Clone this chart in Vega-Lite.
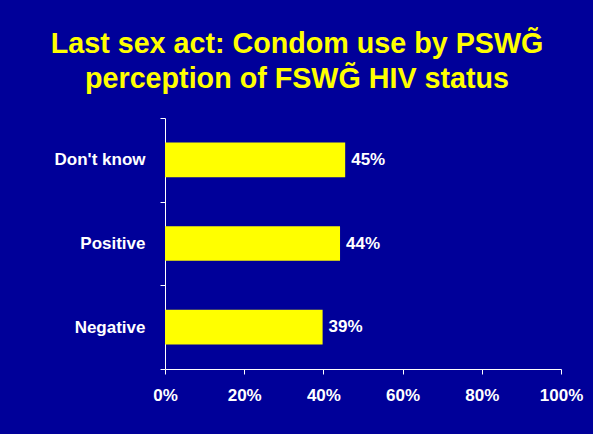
{
  "$schema": "https://vega.github.io/schema/vega-lite/v6.json",
  "autosize": "none",
  "width": 396,
  "height": 251,
  "padding": {"top": 118, "left": 165, "right": 32, "bottom": 65},
  "background": "#000099",
  "title": {
    "text": ["Last sex act: Condom use by PSWG̃", "perception of FSWG̃ HIV status"],
    "color": "#FFFF00",
    "font": "Liberation Sans",
    "fontSize": 28.7,
    "fontWeight": "bold",
    "lineHeight": 35,
    "anchor": "middle",
    "frame": "group",
    "dx": -66,
    "offset": 15
  },
  "data": {
    "values": [
      {"status": "Don't know", "pct": 45.5, "label": "45%"},
      {"status": "Positive", "pct": 44.2, "label": "44%"},
      {"status": "Negative", "pct": 39.8, "label": "39%"}
    ]
  },
  "encoding": {
    "y": {
      "field": "status",
      "type": "nominal",
      "sort": ["Don't know", "Positive", "Negative"],
      "title": null,
      "scale": {"paddingInner": 0, "paddingOuter": 0},
      "axis": {
        "domainColor": "#FFFFFF",
        "domainWidth": 1,
        "tickColor": "#FFFFFF",
        "tickSize": 5,
        "tickBand": "extent",
        "labelColor": "#FFFFFF",
        "labelFont": "Liberation Sans",
        "labelFontSize": 17,
        "labelFontWeight": "bold",
        "labelPadding": 15
      }
    }
  },
  "layer": [
    {
      "mark": {"type": "bar", "color": "#FFFF00", "height": {"band": 0.414}},
      "encoding": {
        "x": {
          "field": "pct",
          "type": "quantitative",
          "title": null,
          "scale": {"domain": [0, 100], "nice": false},
          "axis": {
            "values": [0, 20, 40, 60, 80, 100],
            "labelExpr": "datum.value + '%'",
            "grid": false,
            "domainColor": "#FFFFFF",
            "domainWidth": 1,
            "tickColor": "#FFFFFF",
            "tickSize": 5,
            "labelColor": "#FFFFFF",
            "labelFont": "Liberation Sans",
            "labelFontSize": 17,
            "labelFontWeight": "bold",
            "labelPadding": 13,
            "labelFlush": false
          }
        }
      }
    },
    {
      "mark": {
        "type": "text",
        "align": "left",
        "baseline": "middle",
        "dx": 6,
        "color": "#FFFFFF",
        "font": "Liberation Sans",
        "fontSize": 17,
        "fontWeight": "bold"
      },
      "encoding": {
        "x": {"field": "pct", "type": "quantitative"},
        "text": {"field": "label"}
      }
    }
  ],
  "config": {"view": {"stroke": null}}
}
